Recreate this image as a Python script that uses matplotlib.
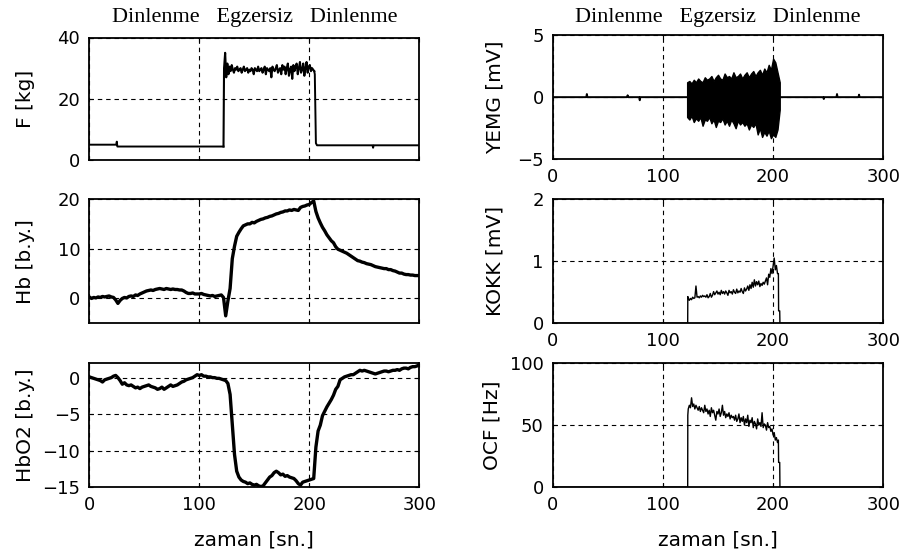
import numpy as np
import matplotlib
matplotlib.use("Agg")
import matplotlib.pyplot as plt

# --- data (time in s) ---

# F [kg]
f_rest1_t = [0, 24.5, 25.0, 25.5, 122.0]
f_rest1 = [5.0, 5.0, 6.0, 4.4, 4.4]
f_ex_t0 = 122.5  # 1 s samples
f_ex = [30.0, 35.0, 27.0, 31.5, 28.0, 30.5, 29.0, 31.0, 29.5, 28.5,
        30.0, 29.5, 30.5, 29.0, 29.5, 30.0, 28.5, 29.5, 30.5, 29.0,
        29.5, 30.0, 28.5, 29.5, 29.0, 30.0, 29.5, 28.0, 30.0, 29.5,
        29.0, 30.5, 29.0, 29.5, 30.0, 28.5, 29.5, 30.5, 28.0, 30.0,
        29.5, 29.0, 30.0, 27.0, 30.5, 29.5, 29.0, 30.0, 31.0, 28.5,
        29.5, 30.0, 28.0, 31.0, 29.5, 30.5, 28.0, 30.0, 31.5, 27.5,
        29.5, 30.5, 26.5, 31.0, 29.0, 30.5, 31.5, 28.0, 30.0, 32.0,
        28.5, 29.5, 31.5, 27.5, 30.0, 32.0, 28.5, 30.5, 31.0, 29.0,
        30.0, 29.5, 29.0]
f_rest2_t = [205.0, 206.0, 207.0, 257.5, 258.0, 258.5, 300.0]
f_rest2 = [28.0, 5.5, 4.8, 4.8, 4.0, 4.8, 4.8]

# Hb [b.y.], 2 s samples from 0 to 300
hb = [0.3, 0.0, 0.2, 0.1, 0.3, 0.2, 0.4, 0.3, 0.4, 0.5,
      0.3, 0.2, -0.3, -1.0, -0.4, 0.0, 0.2, 0.1, 0.4, 0.5,
      0.4, 0.7, 0.6, 0.9, 1.1, 1.3, 1.5, 1.6, 1.7, 1.6,
      1.8, 1.9, 2.0, 1.9, 1.8, 2.0, 1.9, 1.8, 1.9, 1.8,
      1.8, 1.7, 1.7, 1.5, 1.2, 1.0, 1.0, 1.1, 0.9, 0.9,
      0.9, 1.0, 0.8, 0.7, 0.6, 0.5, 0.6, 0.4, 0.5, 0.6,
      0.7, 0.2, -3.5, -0.5, 2.0, 8.0, 10.5, 12.5, 13.3, 14.0,
      14.6, 14.8, 15.0, 15.0, 15.3, 15.2, 15.5, 15.7, 15.9, 16.0,
      16.2, 16.3, 16.5, 16.6, 16.8, 17.0, 17.1, 17.3, 17.4, 17.6,
      17.6, 17.8, 17.7, 17.9, 17.8, 17.7, 18.3, 18.5, 18.6, 18.8,
      18.9, 19.3, 19.6, 17.5, 16.2, 15.2, 14.3, 13.6, 12.8, 12.2,
      11.6, 11.2, 10.4, 9.9, 9.7, 9.5, 9.3, 9.1, 8.8, 8.5,
      8.2, 7.9, 7.6, 7.5, 7.3, 7.2, 7.0, 6.9, 6.8, 6.6,
      6.4, 6.3, 6.2, 6.1, 6.0, 6.0, 5.8, 5.8, 5.6, 5.5,
      5.3, 5.1, 5.1, 4.9, 4.8, 4.8, 4.7, 4.7, 4.6, 4.6,
      4.6]

# HbO2 [b.y.], 2 s samples from 0 to 300
hbo2 = [0.1, 0.0, -0.1, -0.2, -0.3, -0.4, -0.6, -0.3, -0.2, -0.1,
        0.0, 0.2, 0.3, 0.0, -0.4, -0.9, -0.7, -1.0, -1.1, -1.0,
        -1.2, -1.4, -1.3, -1.5, -1.3, -1.2, -1.1, -1.0, -1.2, -1.3,
        -1.4, -1.6, -1.5, -1.3, -1.6, -1.4, -1.2, -1.0, -1.2, -1.1,
        -1.0, -0.8, -0.6, -0.5, -0.3, -0.2, -0.1, 0.0, 0.2, 0.4,
        0.3, 0.4, 0.2, 0.2, 0.1, 0.1, 0.0, 0.0, -0.1, -0.1,
        -0.2, -0.3, -0.4, -0.8, -2.3, -6.5, -10.5, -12.8, -13.6, -14.0,
        -14.2, -14.3, -14.5, -14.4, -14.6, -14.7, -14.6, -14.8, -14.9, -14.8,
        -14.4, -14.0, -13.6, -13.4, -13.0, -12.8, -13.0, -13.3, -13.2, -13.5,
        -13.4, -13.6, -13.7, -13.8, -14.1, -14.5, -14.7, -14.3, -14.2, -14.1,
        -14.0, -13.9, -13.8, -9.5, -7.3, -6.5, -5.2, -4.6, -4.0, -3.5,
        -3.0, -2.4, -1.6, -1.2, -0.3, -0.1, 0.1, 0.2, 0.3, 0.4,
        0.4, 0.6, 0.8, 1.0, 0.9, 1.0, 0.9, 0.8, 0.7, 0.6,
        0.5, 0.6, 0.7, 0.8, 0.9, 0.9, 0.8, 0.9, 1.0, 1.0,
        1.1, 1.0, 1.2, 1.3, 1.3, 1.2, 1.4, 1.5, 1.5, 1.6,
        1.8]

# YEMG [mV]: resting trace and burst envelope (2 s samples from 122)
emg_rest_t = [0, 30.5, 31.0, 31.5, 67.5, 68.0, 68.5, 78.5, 79.0, 79.5, 122.0,
              206.0, 245.5, 246.0, 246.5, 257.5, 258.0, 258.5, 277.5, 278.0, 278.5, 300.0]
emg_rest = [0, 0, 0.25, 0, 0, 0.15, 0, 0, -0.25, 0, 0,
            0, 0, -0.15, 0, 0, 0.25, 0, 0, 0.2, 0, 0]
emg_burst_t0 = 122.0
emg_up = [1.2, 1.3, 1.1, 1.4, 1.2, 1.5, 1.3, 1.2, 1.6, 1.4,
          1.5, 1.7, 1.3, 1.6, 1.8, 1.5, 1.4, 1.9, 1.6, 1.7,
          1.5, 2.0, 1.6, 1.7, 1.9, 1.5, 1.8, 2.0, 1.6, 1.9,
          2.1, 1.7, 2.0, 2.2, 1.8, 2.3, 2.0, 2.6, 2.2, 3.1,
          2.8, 2.0, 1.2]
emg_low = [-1.6, -1.8, -1.5, -2.0, -1.7, -1.9, -1.6, -2.3, -1.8, -1.9,
           -1.6, -2.1, -1.8, -2.4, -1.9, -2.0, -1.7, -2.2, -1.9, -2.3,
           -1.8, -2.1, -2.5, -1.9, -2.2, -2.0, -2.3, -2.1, -2.6, -2.2,
           -2.4, -2.1, -3.0, -2.5, -3.2, -2.8, -3.1, -2.7, -3.3, -3.0,
           -3.2, -2.6, -1.0]

# KOKK [mV], 1 s samples from 123 to 204
kokk_head_t = [0, 122.5, 122.6]
kokk_head = [0, 0, 0.43]
kokk_t0 = 123.0
kokk = [0.40, 0.37, 0.40, 0.38, 0.42, 0.40, 0.41, 0.60, 0.42, 0.43,
        0.41, 0.44, 0.42, 0.45, 0.43, 0.44, 0.42, 0.46, 0.41, 0.43,
        0.48, 0.42, 0.45, 0.51, 0.46, 0.49, 0.52, 0.47, 0.50, 0.46,
        0.53, 0.48, 0.51, 0.47, 0.52, 0.49, 0.45, 0.53, 0.49, 0.51,
        0.47, 0.54, 0.50, 0.48, 0.55, 0.49, 0.52, 0.50, 0.56, 0.51,
        0.48, 0.57, 0.52, 0.55, 0.60, 0.53, 0.62, 0.56, 0.66, 0.58,
        0.70, 0.60, 0.67, 0.62, 0.68, 0.59, 0.64, 0.61, 0.66, 0.63,
        0.68, 0.73, 0.62, 0.79, 0.74, 0.88, 0.80, 0.92, 1.05, 0.86,
        0.93, 0.80]
kokk_tail_t = [204.8, 205.0, 206.0, 206.2, 300.0]
kokk_tail = [0.80, 0.20, 0.20, 0.0, 0.0]

# OCF [Hz], 1 s samples from 123 to 204
ocf_head_t = [0, 122.5, 122.6]
ocf_head = [0, 0, 58]
ocf_t0 = 123.0
ocf = [63, 66, 64, 72, 65, 67, 63, 66, 64, 62,
       65, 61, 64, 62, 60, 66, 61, 63, 59, 62,
       57, 64, 60, 62, 58, 54, 61, 59, 63, 57,
       60, 66, 58, 61, 56, 59, 57, 60, 55, 58,
       56, 57, 54, 58, 53, 55, 59, 52, 56, 53,
       57, 50, 55, 52, 58, 49, 54, 52, 56, 48,
       53, 51, 47, 55, 50, 52, 49, 60, 48, 51,
       50, 46, 52, 48, 49, 45, 47, 42, 44, 38,
       40, 36]
ocf_tail_t = [204.8, 205.0, 206.0, 206.2, 300.0]
ocf_tail = [38, 20, 20, 0, 0]

title_txt = "Dinlenme   Egzersiz   Dinlenme"
xlab = "zaman [sn.]"

# --- figure ---
W, H = 903, 556
fig = plt.figure(figsize=(W / 100, H / 100), dpi=100)

TICK_FS = 13
LAB_FS = 14.5
SANS = "DejaVu Sans"


def make_ax(left, top, right, bottom):
    return fig.add_axes([left / W, 1 - bottom / H, (right - left) / W, (bottom - top) / H])


def style(ax, ylim, yticks, ylabel, show_x=True, label_x=-0.165):
    ax.set_xlim(0, 300)
    ax.set_ylim(*ylim)
    ax.set_xticks([0, 100, 200, 300])
    ax.set_yticks(yticks)
    if not show_x:
        ax.set_xticklabels([])
    ax.grid(True, color="k", linestyle=(0, (4, 3.5)), linewidth=0.8)
    ax.set_axisbelow(True)
    ax.tick_params(direction="in", length=3, width=0.8, top=True, right=True,
                   labelsize=TICK_FS, pad=6.5)
    for lab in ax.get_xticklabels() + ax.get_yticklabels():
        lab.set_family(SANS)
    for s in ax.spines.values():
        s.set_linewidth(1.3)
    ax.set_ylabel(ylabel, fontsize=LAB_FS, family=SANS)
    ax.yaxis.set_label_coords(label_x, 0.5)


LX0, LX1 = 89.3, 419.3
RX0, RX1 = 552.7, 883.3

# F
ax = make_ax(LX0, 37.5, LX1, 160)
ax.plot(f_rest1_t, f_rest1, color="k", lw=1.4)
ax.plot(np.r_[f_rest1_t[-1], f_ex_t0 + np.arange(len(f_ex))],
        np.r_[f_rest1[-1], f_ex], color="k", lw=1.5)
ax.plot(np.r_[f_ex_t0 + len(f_ex) - 1, f_rest2_t],
        np.r_[f_ex[-1], f_rest2], color="k", lw=1.4)
style(ax, (0, 40), [0, 20, 40], "F [kg]", show_x=False)
ax.set_title(title_txt, family="Liberation Serif", fontsize=16, pad=11)

# Hb
ax = make_ax(LX0, 199, LX1, 323.3)
ax.plot(np.arange(len(hb)) * 2.0, hb, color="k", lw=2.4)
style(ax, (-5, 20), [0, 10, 20], "Hb [b.y.]", show_x=False)

# HbO2
ax = make_ax(LX0, 363, LX1, 487.3)
ax.plot(np.arange(len(hbo2)) * 2.0, hbo2, color="k", lw=2.4)
style(ax, (-15, 2), [-15, -10, -5, 0], "HbO2 [b.y.]")
ax.set_xlabel(xlab, fontsize=LAB_FS, family=SANS)
ax.xaxis.set_label_coords(0.5, -0.35)

# YEMG
ax = make_ax(RX0, 35, RX1, 159.3)
ax.plot(emg_rest_t, emg_rest, color="k", lw=1.4)
emg_t = emg_burst_t0 + np.arange(len(emg_up)) * 2.0
ax.fill_between(emg_t, emg_low, emg_up, facecolor="k", edgecolor="k", lw=1.0)
style(ax, (-5, 5), [-5, 0, 5], "YEMG [mV]", label_x=-0.145)
ax.set_title(title_txt, family="Liberation Serif", fontsize=16, pad=9.5)

# KOKK
ax = make_ax(RX0, 199, RX1, 323.3)
kt = np.r_[kokk_head_t, kokk_t0 + np.arange(len(kokk)), kokk_tail_t]
ax.plot(kt, np.r_[kokk_head, kokk, kokk_tail], color="k", lw=1.0)
style(ax, (0, 2), [0, 1, 2], "KOKK [mV]", label_x=-0.145)

# OCF
ax = make_ax(RX0, 363, RX1, 487.3)
ot = np.r_[ocf_head_t, ocf_t0 + np.arange(len(ocf)), ocf_tail_t]
ax.plot(ot, np.r_[ocf_head, ocf, ocf_tail], color="k", lw=1.0)
style(ax, (0, 100), [0, 50, 100], "OCF [Hz]", label_x=-0.155)
ax.set_xlabel(xlab, fontsize=LAB_FS, family=SANS)
ax.xaxis.set_label_coords(0.5, -0.35)

fig.savefig("out.png", dpi=100, facecolor="white")
